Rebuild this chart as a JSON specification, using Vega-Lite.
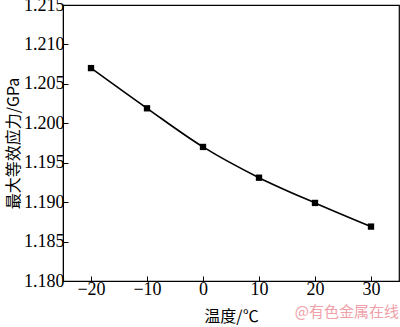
{
  "$schema": "https://vega.github.io/schema/vega-lite/v6.json",
  "width": 336,
  "height": 276,
  "autosize": {"type": "none"},
  "padding": {"left": 63, "top": 5, "right": 1, "bottom": 46},
  "background": "white",
  "config": {
    "view": {"stroke": "#000", "strokeWidth": 1.2},
    "font": "Liberation Serif",
    "axis": {
      "grid": false,
      "domainColor": "#000",
      "tickColor": "#000",
      "labelColor": "#000",
      "titleColor": "#000",
      "labelFont": "Liberation Serif",
      "labelFontSize": 18,
      "titleFontSize": 16,
      "titleFontWeight": "normal",
      "titleFont": "Noto Sans CJK SC",
      "tickSize": -5,
      "labelPadding": 4,
      "labelOverlap": false
    }
  },
  "data": {
    "values": [
      {"t": -20, "s": 1.2070},
      {"t": -10, "s": 1.2019},
      {"t": 0, "s": 1.1970},
      {"t": 10, "s": 1.1931},
      {"t": 20, "s": 1.1899},
      {"t": 30, "s": 1.1869}
    ]
  },
  "mark": {
    "type": "line", "color": "#000", "strokeWidth": 1.6, "interpolate": "monotone",
    "point": {"shape": "square", "filled": true, "color": "#000", "size": 40, "opacity": 1}
  },
  "encoding": {
    "x": {"field": "t", "type": "quantitative", "scale": {"domain": [-25, 35], "nice": false},
          "axis": {"values": [-20, -10, 0, 10, 20, 30], "title": "温度/℃", "titlePadding": 10, "labelOverlap": false}},
    "y": {"field": "s", "type": "quantitative", "scale": {"domain": [1.18, 1.215], "nice": false, "zero": false},
          "axis": {"values": [1.18, 1.185, 1.19, 1.195, 1.2, 1.205, 1.21, 1.215], "format": ".3f", "title": "最大等效应力/GPa", "titlePadding": 2, "labelOverlap": false, "labelBound": false}}
  },
  "title": {
    "text": "@有色金属在线",
    "orient": "bottom",
    "anchor": "end",
    "font": "Noto Sans CJK SC",
    "fontSize": 15,
    "fontWeight": "normal",
    "color": "#f0a0a8",
    "offset": -19
  }
}
